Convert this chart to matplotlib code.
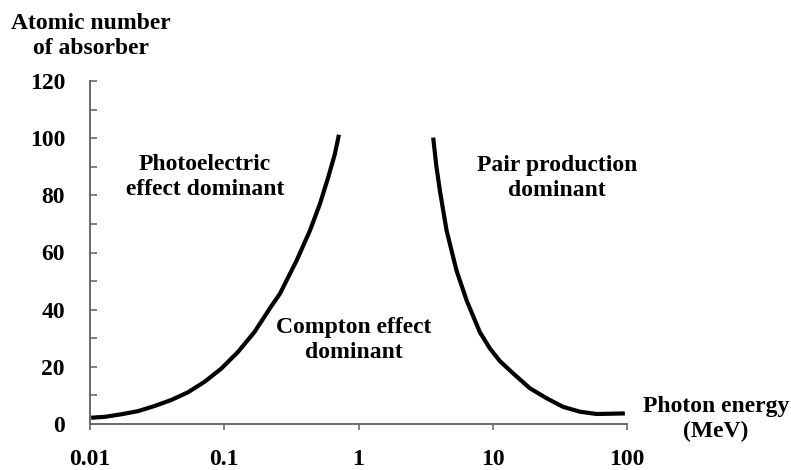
import matplotlib.pyplot as plt
from matplotlib.ticker import MultipleLocator, NullLocator

# boundary where photoelectric ~ compton
photo_E = [0.0102, 0.01285, 0.0171, 0.0228, 0.0303, 0.0403, 0.0537, 0.0715, 0.0951,
           0.1265, 0.168, 0.224, 0.260, 0.346, 0.435, 0.516, 0.595, 0.667, 0.715]
photo_Z = [2.2, 2.5, 3.4, 4.5, 6.3, 8.4, 11.1, 14.8, 19.4,
           25.2, 32.2, 41.2, 45.6, 57.2, 67.7, 77.0, 86.3, 94.5, 101.2]

# boundary where compton ~ pair production
pair_E = [3.60, 3.80, 4.04, 4.53, 5.37, 6.38, 8.02, 9.5, 11.3, 14.2,
          18.9, 25.2, 33.4, 44.6, 59.3, 96.4]
pair_Z = [100.2, 90.3, 81.6, 67.7, 53.7, 43.3, 32.1, 26.5, 22.0, 17.7,
          12.5, 9.0, 6.0, 4.3, 3.5, 3.7]

x_ticks = [0.01, 0.1, 1, 10, 100]
x_labels = ["0.01", "0.1", "1", "10", "100"]
y_ticks = [0, 20, 40, 60, 80, 100, 120]

plt.rcParams['font.family'] = ['Liberation Serif', 'DejaVu Serif']
plt.rcParams['font.weight'] = 'bold'
fs = 17
gray = '#6a6a6a'

fig = plt.figure(figsize=(7.91, 4.70), dpi=100)
ax = fig.add_axes([90 / 791, 46 / 470, 537 / 791, 343 / 470])

ax.plot(photo_E, photo_Z, c='k', lw=3, solid_capstyle='butt', solid_joinstyle='round')
ax.plot(pair_E, pair_Z, c='k', lw=3, solid_capstyle='butt', solid_joinstyle='round')

ax.set_xscale('log')
ax.set_xlim(0.01, 100)
ax.set_ylim(0, 120)

ax.set_xticks(x_ticks)
ax.set_xticklabels(x_labels, fontsize=fs, fontweight='bold')
ax.xaxis.set_minor_locator(NullLocator())
ax.set_yticks(y_ticks)
ax.set_yticklabels([str(v) for v in y_ticks], fontsize=fs, fontweight='bold')
ax.yaxis.set_minor_locator(MultipleLocator(10))

ax.tick_params(axis='x', direction='out', length=4, width=1.2, color=gray, pad=14)
ax.tick_params(axis='y', which='both', direction='in', length=5, width=1.2, color=gray, pad=18)

for s in ['top', 'right']:
    ax.spines[s].set_visible(False)
for s in ['left', 'bottom']:
    ax.spines[s].set_color(gray)
    ax.spines[s].set_linewidth(1.4)

ax.text(0.072, 86.5, "Photoelectric\neffect dominant", ha='center', va='center',
        fontsize=fs, fontweight='bold', linespacing=1.25)
ax.text(30, 86.2, "Pair production\ndominant", ha='center', va='center',
        fontsize=fs, fontweight='bold', linespacing=1.25)
ax.text(0.92, 29.3, "Compton effect\ndominant", ha='center', va='center',
        fontsize=fs, fontweight='bold', linespacing=1.25)

fig.text(91 / 791, 1 - 36 / 470, "Atomic number\nof absorber", ha='center', va='center',
         fontsize=fs, fontweight='bold', linespacing=1.25)
fig.text(716 / 791, 1 - 419 / 470, "Photon energy\n(MeV)", ha='center', va='center',
         fontsize=fs, fontweight='bold', linespacing=1.25)

fig.savefig("out.png", dpi=100)
